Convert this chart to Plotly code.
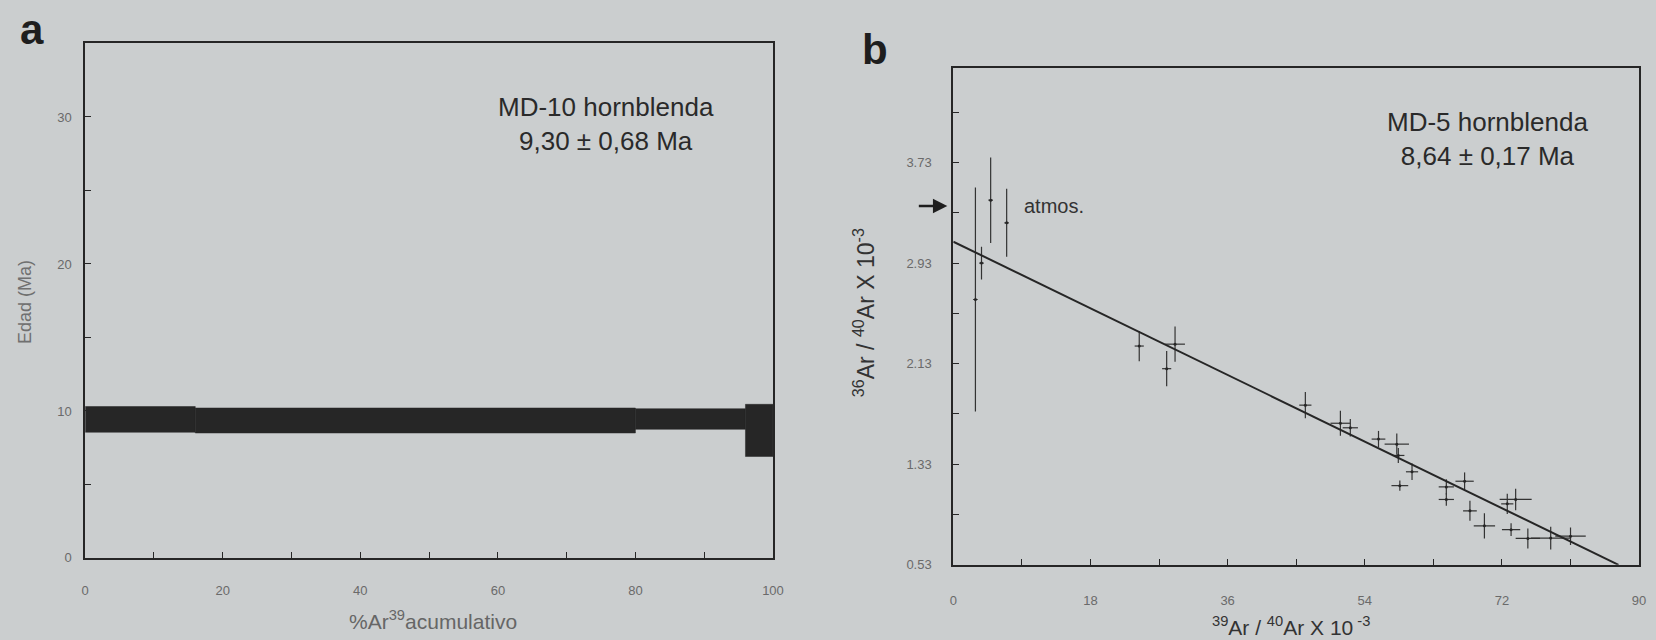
import plotly.graph_objects as go

# ---------- Panel a: age spectrum ----------
step_edges = [0, 16, 80, 96, 100]           # % 39Ar cumulative
step_low = [8.55, 8.5, 8.75, 6.9]           # Ma
step_high = [10.3, 10.2, 10.15, 10.45]      # Ma

# ---------- Panel b: inverse isochron ----------
pts_x = [2.9, 3.7, 4.9, 7.0, 24.4, 29.1, 28.0, 46.2, 50.8, 52.1, 55.8, 58.2, 58.4,
         60.2, 58.6, 64.7, 67.1, 64.7, 67.8, 69.7, 73.8, 72.7, 73.2, 75.4, 78.4, 81.0]
pts_y = [2.64, 2.93, 3.43, 3.25, 2.27, 2.285, 2.09, 1.80, 1.656, 1.62, 1.53, 1.49, 1.40,
         1.27, 1.16, 1.15, 1.195, 1.05, 0.96, 0.84, 1.05, 1.015, 0.81, 0.74, 0.743, 0.758]
err_x = [0.3, 0.3, 0.3, 0.3, 0.6, 1.3, 0.6, 0.8, 1.3, 1.0, 0.9, 1.6, 0.8,
         0.8, 1.1, 1.0, 1.2, 1.0, 0.9, 1.4, 2.1, 0.8, 1.2, 1.6, 2.6, 2.0]
err_y = [0.89, 0.13, 0.34, 0.27, 0.12, 0.14, 0.14, 0.105, 0.10, 0.07, 0.065, 0.085, 0.06,
         0.065, 0.04, 0.06, 0.07, 0.05, 0.08, 0.10, 0.085, 0.08, 0.05, 0.08, 0.09, 0.07]
fit_x = [0, 87.3]
fit_y = [3.10, 0.53]
atmos_ratio = 3.384

b_yticks = [0.53, 1.33, 2.13, 2.93, 3.73]
b_xticks = [0, 18, 36, 54, 72, 90]
a_xticks = [0, 20, 40, 60, 80, 100]
a_yticks = [0, 10, 20, 30]

BG = "#cbcecf"
INK = "#262626"
TICKC = "#6a6a6a"
FONT = "Liberation Sans, Arial, sans-serif"

fig = go.Figure()

# band polygons for age spectrum
for i in range(len(step_low)):
    x0, x1 = step_edges[i], step_edges[i + 1]
    fig.add_trace(go.Scatter(
        x=[x0, x1, x1, x0, x0],
        y=[step_low[i], step_low[i], step_high[i], step_high[i], step_low[i]],
        fill="toself", fillcolor="#262626", mode="lines",
        line=dict(color="#262626", width=0.5),
        xaxis="x", yaxis="y", showlegend=False, hoverinfo="skip"))

# isochron points with error crosses
fig.add_trace(go.Scatter(
    x=pts_x, y=pts_y, mode="markers",
    marker=dict(size=3, color=INK),
    error_x=dict(type="data", array=err_x, color="#333333", thickness=1.2, width=0),
    error_y=dict(type="data", array=err_y, color="#333333", thickness=1.2, width=0),
    xaxis="x2", yaxis="y2", showlegend=False))

# regression line
fig.add_trace(go.Scatter(
    x=fit_x, y=fit_y, mode="lines", line=dict(color=INK, width=2),
    xaxis="x2", yaxis="y2", showlegend=False, cliponaxis=False))


def axis_common(standoff):
    return dict(showline=True, linecolor=INK, linewidth=2, mirror=True,
                ticks="inside", ticklen=6, tickcolor=INK, tickwidth=1.2,
                showgrid=False, zeroline=False, ticklabelstandoff=standoff,
                tickfont=dict(family=FONT, size=13, color=TICKC))


fig.update_layout(
    width=1656, height=640,
    margin=dict(l=0, r=0, t=0, b=0),
    paper_bgcolor=BG, plot_bgcolor=BG,
    font=dict(family=FONT, color=INK),
    xaxis=dict(domain=[0.0495, 0.4686], range=[0, 100], tickvals=a_xticks,
               minor=dict(ticks="inside", ticklen=6, tickcolor=INK, dtick=10, tick0=0),
               anchor="y", **axis_common(19)),
    yaxis=dict(domain=[0.1172, 0.93125], range=[0, 35], tickvals=a_yticks,
               minor=dict(ticks="inside", ticklen=6, tickcolor=INK, dtick=5, tick0=0),
               anchor="x", **axis_common(9)),
    xaxis2=dict(domain=[0.5785, 0.9964], range=[0, 90], tickvals=b_xticks,
                minor=dict(ticks="inside", ticklen=6, tickcolor=INK, dtick=9, tick0=0),
                anchor="y2", **axis_common(23)),
    yaxis2=dict(domain=[0.10625, 0.8922], range=[0.53, 4.48], tickvals=b_yticks,
                tickformat=".2f",
                minor=dict(ticks="inside", ticklen=6, tickcolor=INK, dtick=0.4, tick0=0.53),
                anchor="x2", **axis_common(17)),
)


def txt(text, x, y, size, color="#2a2a2a", angle=0, xanchor="center"):
    return dict(text=text, x=x / 1656, y=1 - y / 640, xref="paper", yref="paper",
                showarrow=False, textangle=angle, xanchor=xanchor, yanchor="middle",
                align="center", font=dict(family=FONT, size=size, color=color))


ann = [
    txt("<b>a</b>", 28, 30, 42, "#1e1e1e"),
    txt("<b>b</b>", 879, 50, 42, "#1e1e1e"),
    txt("MD-10 hornblenda<br>9,30 ± 0,68 Ma", 607, 126, 26),
    txt("MD-5 hornblenda<br>8,64 ± 0,17 Ma", 1497, 141, 26),
    txt("Edad (Ma)", 21, 306, 18, "#707070", angle=-90),
    txt("%Ar<sup>39</sup>acumulativo", 433, 628, 21, "#666666"),
    txt("<sup>36</sup>Ar / <sup>40</sup>Ar X 10<sup>-3</sup>", 868, 317, 23, "#333333", angle=-90),
    txt("<sup>39</sup>Ar / <sup>40</sup>Ar X 10<sup> -3</sup>", 1299, 634, 21, "#333333"),
    # atmospheric arrow
    dict(x=0, y=atmos_ratio, xref="x2", yref="y2", text="", showarrow=True,
         ax=-36, ay=0, arrowhead=2, arrowsize=1.2, arrowwidth=2.4, arrowcolor="#1e1e1e",
         standoff=6),
    dict(text="atmos.", x=9.0, y=atmos_ratio, xref="x2", yref="y2", showarrow=False,
         xanchor="left", yanchor="middle",
         font=dict(family=FONT, size=20, color="#333333")),
]

fig.update_layout(annotations=ann)
fig.write_html("out.html")
